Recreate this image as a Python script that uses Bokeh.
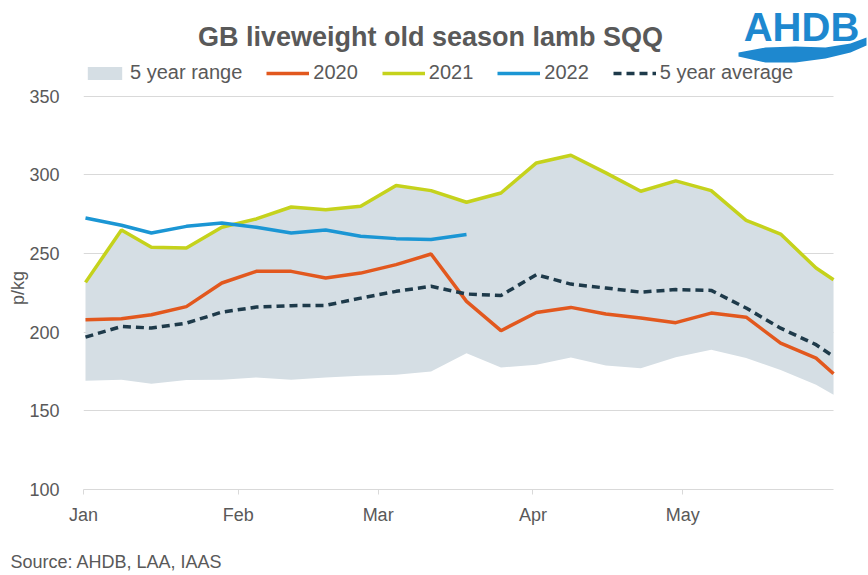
import math
from bokeh.plotting import figure
from bokeh.models import (Range1d, FixedTicker, Legend, LegendItem, Label, PolyAnnotation)
from bokeh.embed import file_html
from bokeh.resources import INLINE

# ---- data (weekly points, x = days since 1 Jan) ----
week_day = [0.4, 7.6, 13.6, 20.6, 27.7, 34.6, 41.6, 48.5, 55.5, 62.6, 69.6, 76.7,
            83.6, 90.7, 97.6, 104.6, 111.6, 118.6, 125.7, 132.7, 139.6, 146.7, 150.2]
range_low = [169.1, 169.7, 167.2, 169.5, 169.7, 171.2, 169.7, 171.2, 172.2, 172.9, 175.0, 186.6,
             177.5, 179.3, 183.9, 178.8, 177.1, 184.0, 188.8, 183.5, 176.0, 166.5, 160.2]
range_high = [231.6, 264.9, 253.9, 253.4, 266.6, 271.9, 279.5, 277.8, 280.0, 293.1, 289.9, 282.5,
              288.4, 307.5, 312.4, 301.2, 289.5, 296.1, 289.9, 271.0, 262.3, 240.7, 233.3]
y2020 = [207.9, 208.5, 211.0, 216.2, 231.2, 238.6, 238.6, 234.4, 237.5, 242.9, 249.6, 219.5,
         200.9, 212.5, 215.7, 211.5, 208.9, 206.0, 212.1, 209.5, 193.0, 183.5, 173.5]
y2021 = [231.6, 264.9, 253.9, 253.4, 266.6, 271.9, 279.5, 277.8, 280.0, 293.1, 289.9, 282.5,
         288.4, 307.5, 312.4, 301.2, 289.5, 296.1, 289.9, 271.0, 262.3, 240.7, 233.3]
y2022 = [272.5, 267.9, 263.0, 267.2, 269.3, 266.6, 263.0, 264.9, 260.9, 259.4, 258.8, 262.0]
avg5 = [196.8, 203.6, 202.6, 205.7, 212.7, 215.9, 216.8, 217.0, 221.6, 225.9, 229.1, 224.2,
        223.3, 236.5, 230.5, 228.0, 225.4, 227.0, 226.5, 215.3, 202.5, 192.0, 184.5]

month_day = [0, 31, 59, 90, 120]
month_label = ["Jan", "Feb", "Mar", "Apr", "May"]
y_ticks = [100, 150, 200, 250, 300, 350]
x_end = 150.2

TXT = "#595959"
FONT = "Liberation Sans"
BLUE_LOGO = "#1E88CF"

p = figure(width=868, height=575, output_backend="svg", toolbar_location=None,
           x_range=Range1d(0, 157.2), y_range=Range1d(100, 410.7),
           min_border_left=83, min_border_right=0, min_border_top=0, min_border_bottom=86)
p.outline_line_color = None

band = p.varea(x=week_day, y1=range_low, y2=range_high, fill_color="#D5DEE4")
r20 = p.line(week_day, y2020, line_color="#E2581E", line_width=3.5)
r21 = p.line(week_day, y2021, line_color="#C5D21C", line_width=3.5)
r22 = p.line(week_day[:len(y2022)], y2022, line_color="#1B96D4", line_width=3.5)
ravg = p.line(week_day, avg5, line_color="#1E3A4A", line_width=3.5, line_dash="8 5")

# axes
p.xaxis.ticker = FixedTicker(ticks=month_day)
p.xaxis.bounds = (0, x_end)
p.xaxis.major_label_overrides = {d: m for d, m in zip(month_day, month_label)}
p.xaxis.axis_line_color = "#D9D9D9"
p.xaxis.major_tick_line_color = "#D9D9D9"
p.xaxis.major_tick_out = 5
p.xaxis.major_tick_in = 0
p.xaxis.minor_tick_line_color = None
p.xaxis.major_label_standoff = 10
p.xaxis.major_label_text_font = FONT
p.xaxis.major_label_text_font_size = "18px"
p.xaxis.major_label_text_color = TXT

p.yaxis.ticker = FixedTicker(ticks=y_ticks)
p.yaxis.bounds = (100, 350)
p.yaxis.axis_line_color = None
p.yaxis.major_tick_line_color = None
p.yaxis.minor_tick_line_color = None
p.yaxis.major_label_standoff = 18
p.yaxis.major_label_text_font = FONT
p.yaxis.major_label_text_font_size = "18px"
p.yaxis.major_label_text_color = TXT

p.xgrid.grid_line_color = None
p.ygrid.ticker = FixedTicker(ticks=y_ticks)
p.ygrid.grid_line_color = "#D9D9D9"
p.ygrid.grid_line_width = 1
p.ygrid.cross_bounds = (0, x_end)

legend = Legend(items=[
    LegendItem(label="5 year range", renderers=[band]),
    LegendItem(label="2020", renderers=[r20]),
    LegendItem(label="2021", renderers=[r21]),
    LegendItem(label="2022", renderers=[r22]),
    LegendItem(label="5 year average", renderers=[ravg]),
], orientation="horizontal", location=(0, 405), padding=0, margin=0,
    spacing=24, glyph_width=43, glyph_height=16, label_height=20, label_standoff=4,
    label_text_font=FONT, label_text_font_size="20px", label_text_color=TXT,
    border_line_color=None, background_fill_alpha=0)
p.add_layout(legend, "center")

# title and logo (screen offsets from the plot frame's bottom-left)
p.add_layout(Label(x=347, y=453, x_units="screen", y_units="screen",
                   text="GB liveweight old season lamb SQQ", text_align="center",
                   text_baseline="middle", text_font=FONT, text_font_size="27px",
                   text_font_style="bold", text_color=TXT))
p.add_layout(Label(x=718, y=463, x_units="screen", y_units="screen",
                   text="AHDB", text_align="center", text_baseline="middle",
                   text_font=FONT, text_font_size="40px", text_font_style="bold",
                   text_color=BLUE_LOGO))
wave_x = [738, 765, 795, 825, 850, 866, 866, 850, 825, 795, 765, 738]
wave_y = [52, 47, 46, 47, 43, 37, 45, 52, 58, 62, 62, 56]
p.add_layout(PolyAnnotation(xs=[x - 83 for x in wave_x], ys=[489 - y for y in wave_y],
                            xs_units="screen", ys_units="screen",
                            fill_color=BLUE_LOGO, fill_alpha=1, line_color=None))

# y axis title, centred on the 100-350 value span (side panel, so not clipped)
p.add_layout(Label(x=17, y=287.5, x_units="canvas", y_units="canvas", text="p/kg",
                   angle=math.pi / 2, text_align="center", text_baseline="middle",
                   text_font=FONT, text_font_size="18px", text_color=TXT), "left")

# source note under the x axis (canvas pixels)
p.add_layout(Label(x=10, y=561, x_units="canvas", y_units="canvas",
                   text="Source: AHDB, LAA, IAAS", text_align="left", text_baseline="middle",
                   text_font=FONT, text_font_size="18px", text_color=TXT), "below")

open("out.html", "w").write(file_html(p, INLINE))
